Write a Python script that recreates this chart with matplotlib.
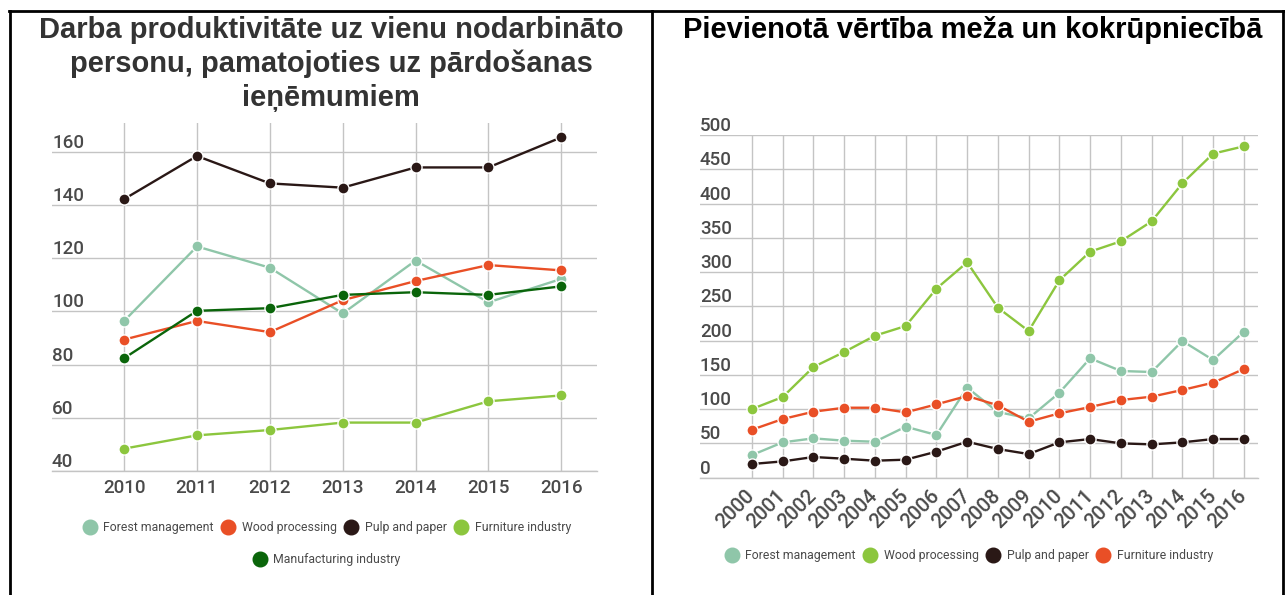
import matplotlib
matplotlib.use("Agg")
import matplotlib.pyplot as plt
from matplotlib.lines import Line2D

# ---------------- data ----------------
left_years = [2010, 2011, 2012, 2013, 2014, 2015, 2016]
left_forest = [96.4, 124.4, 116.4, 99.2, 119.1, 103.4, 112.2]
left_wood = [89.4, 96.4, 92.2, 104.2, 111.4, 117.4, 115.4]
left_pulp = [142.2, 158.4, 148.1, 146.5, 154.1, 154.1, 165.4]
left_furniture = [48.4, 53.4, 55.4, 58.2, 58.2, 66.2, 68.4]
left_manufacturing = [82.4, 100.2, 101.2, 106.2, 107.2, 106.2, 109.4]
left_yticks = [40, 60, 80, 100, 120, 140, 160]

right_years = list(range(2000, 2017))
right_forest = [33, 51.6, 57.4, 54, 52.5, 74.4, 62.3, 131.4, 95.8, 86.6, 124,
                174.2, 155.7, 154.2, 199.5, 171.7, 213]
right_wood = [100.2, 117.7, 161.5, 183.4, 207.2, 221.3, 275.8, 314.2, 248, 214,
              288, 329.8, 344.9, 374, 429.5, 472.8, 483.5]
right_pulp = [20, 23.8, 30.2, 27.7, 24.8, 26.3, 38, 52.5, 41.8, 34.5, 51.6, 56.4,
              50.1, 48.6, 51.6, 56.4, 56.4]
right_furniture = [70, 85.6, 96.3, 102.1, 102.1, 95.3, 107, 119.2, 105.6, 81.7,
                   93.9, 103.1, 113.3, 118.2, 128, 138.6, 158.6]
right_yticks = [0, 50, 100, 150, 200, 250, 300, 350, 400, 450, 500]

left_title = "Darba produktivitāte uz vienu nodarbināto\npersonu, pamatojoties uz pārdošanas\nieņēmumiem"
right_title = "Pievienotā vērtība meža un kokrūpniecībā"

# ---------------- style ----------------
C_FOREST = "#8fc6a9"
C_WOOD = "#e94f26"
C_PULP = "#2a1816"
C_FURN = "#8cc63e"
C_MANU = "#0a650a"
GRID = "#c4c4c4"
LABEL = "#4a4a4a"
FONT = "Roboto"

W, H = 1285, 595
fig = plt.figure(figsize=(W / 100, H / 100), dpi=100)
fig.patch.set_facecolor("white")


def px_rect(x0, x1, ytop, ybot):
    return [x0 / W, 1 - ybot / H, (x1 - x0) / W, (ybot - ytop) / H]


def style_axes(ax, yticks):
    for s in ["top", "right", "left"]:
        ax.spines[s].set_visible(False)
    ax.spines["bottom"].set_color(GRID)
    ax.spines["bottom"].set_linewidth(1.0)
    ax.grid(True, color=GRID, linewidth=1.0)
    ax.set_axisbelow(True)
    ax.set_yticks(yticks)
    ax.tick_params(axis="y", length=0, labelleft=False)
    ax.tick_params(axis="x", length=0, labelcolor=LABEL)
    for v in yticks:
        ax.text(0, v, str(v), transform=ax.get_yaxis_transform(), ha="left",
                va="bottom", fontsize=13.5, color=LABEL, family=FONT,
                fontweight="medium")


def plot_series(ax, x, y, c):
    ax.plot(x, y, color=c, linewidth=1.7, marker="o", markersize=8,
            markerfacecolor=c, markeredgecolor="white", markeredgewidth=1.0,
            clip_on=False, zorder=3)


# ---------------- left chart ----------------
axL = fig.add_axes(px_rect(52, 597, 123, 471))
style_axes(axL, left_yticks)
for y, c in [(left_forest, C_FOREST), (left_wood, C_WOOD), (left_pulp, C_PULP),
             (left_furniture, C_FURN), (left_manufacturing, C_MANU)]:
    plot_series(axL, left_years, y, c)
axL.set_xlim(2009.01, 2016.49)
axL.set_ylim(40, 170.8)
axL.set_xticks(left_years)
axL.set_xticklabels([str(v) for v in left_years], fontsize=13.5, family=FONT,
                    fontweight="medium")
axL.tick_params(axis="x", pad=6)

# ---------------- right chart ----------------
axR = fig.add_axes(px_rect(700, 1258, 135, 477.7))
style_axes(axR, right_yticks)
for y, c in [(right_forest, C_FOREST), (right_wood, C_FURN), (right_pulp, C_PULP),
             (right_furniture, C_WOOD)]:
    plot_series(axR, right_years, y, c)
axR.set_xlim(1998.31, 2016.46)
axR.set_ylim(0, 500)
axR.set_xticks(right_years)
axR.set_xticklabels([str(v) for v in right_years], fontsize=14.5, family=FONT,
                    fontweight="medium", rotation=45, ha="right", va="center",
                    rotation_mode="anchor")
axR.tick_params(axis="x", pad=11)

# ---------------- titles ----------------
fig.text(331 / W, 1 - 16 / H, left_title, ha="center", va="top", fontsize=21,
         fontweight="bold", color="#333333", family="Liberation Sans",
         linespacing=1.25)
fig.text(973 / W, 1 - 30 / H, right_title, ha="center", va="center", fontsize=21,
         fontweight="bold", color="black", family="Liberation Sans")


# ---------------- legends ----------------
def handles(items):
    return [Line2D([], [], linestyle="", marker="o", markersize=10.5,
                   markerfacecolor=c, markeredgecolor=c, label=l) for l, c in items]


leg_kw = dict(frameon=False, handlelength=1.1, handletextpad=0.55,
              columnspacing=0.65, borderpad=0, borderaxespad=0, loc="center",
              prop={"family": FONT, "size": 8.8}, labelcolor=LABEL)
l1 = fig.legend(handles=handles([("Forest management", C_FOREST),
                                 ("Wood processing", C_WOOD),
                                 ("Pulp and paper", C_PULP),
                                 ("Furniture industry", C_FURN)]),
                ncol=4, bbox_to_anchor=(327 / W, 1 - 528 / H), **leg_kw)
l2 = fig.legend(handles=handles([("Manufacturing industry", C_MANU)]),
                ncol=1, bbox_to_anchor=(327 / W, 1 - 560 / H), **leg_kw)
l3 = fig.legend(handles=handles([("Forest management", C_FOREST),
                                 ("Wood processing", C_FURN),
                                 ("Pulp and paper", C_PULP),
                                 ("Furniture industry", C_WOOD)]),
                ncol=4, bbox_to_anchor=(969 / W, 1 - 556 / H), **leg_kw)

# ---------------- table borders ----------------
def fline(x0, y0, x1, y1, lw=2.0):
    fig.add_artist(Line2D([x0 / W, x1 / W], [1 - y0 / H, 1 - y1 / H],
                          transform=fig.transFigure, color="black", linewidth=lw))


fline(9, 11, W, 11)
fline(10, 11, 10, H)
fline(652, 11, 652, H)
fline(1283, 11, 1283, H)

fig.savefig("out.png", dpi=100, facecolor="white")
